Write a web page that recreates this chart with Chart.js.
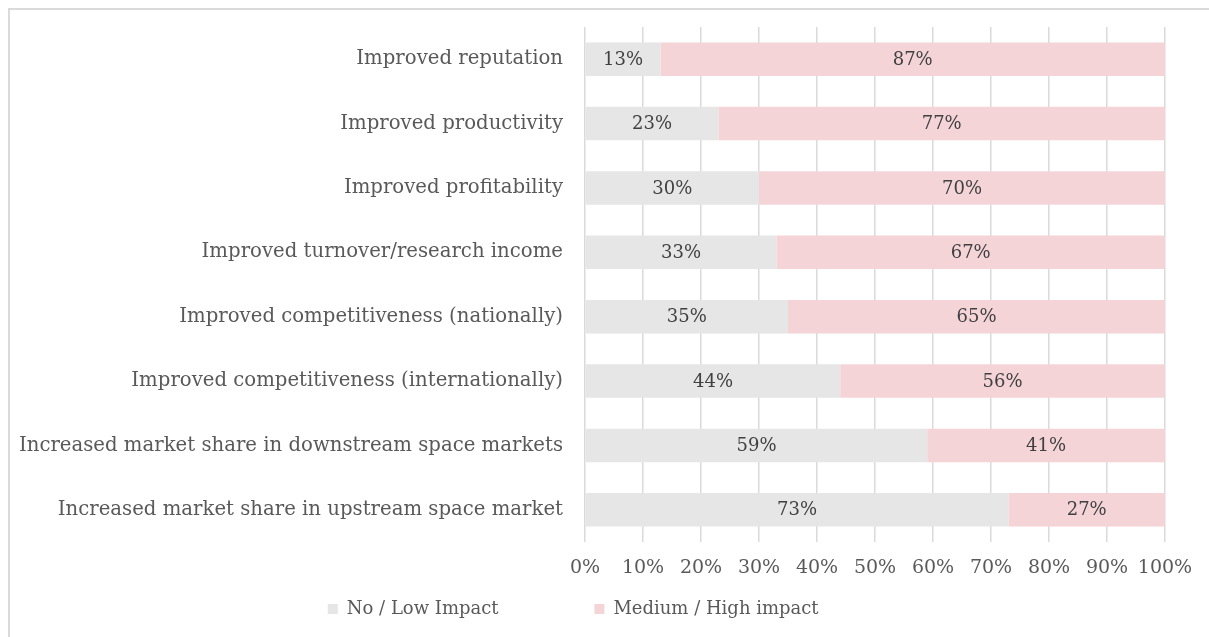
<!DOCTYPE html>
<html>
<head>
<meta charset="utf-8">
<script src="https://cdn.jsdelivr.net/npm/chart.js@4.4.1/dist/chart.umd.min.js"></script>
<style>
  html, body { margin: 0; padding: 0; background: #fff; }
  #frame {
    position: absolute; left: 8px; top: 8px; width: 1300px; height: 700px;
    border-left: 2px solid #dadada; border-top: 2px solid #dadada;
  }
  #wrap { position: absolute; left: 0; top: 0; width: 1209px; height: 637px; }
</style>
</head>
<body>
<div id="frame"></div>
<div id="wrap"><canvas id="impactChart" width="1209" height="637"></canvas></div>
<script>
const categories = [
    'Improved reputation',
    'Improved productivity',
    'Improved profitability',
    'Improved turnover/research income',
    'Improved competitiveness (nationally)',
    'Improved competitiveness (internationally)',
    'Increased market share in downstream space markets',
    'Increased market share in upstream space market'
];
const lowImpact = [13, 23, 30, 33, 35, 44, 59, 73];
const highImpact = [87, 77, 70, 67, 65, 56, 41, 27];
const seriesNames = ['No / Low Impact', 'Medium / High impact'];

const serif = "'DejaVu Serif', Georgia, serif";

// write the % value in the middle of every bar segment
const barValues = {
    id: 'barValues',
    afterDatasetsDraw(chart) {
        const ctx = chart.ctx;
        ctx.save();
        ctx.font = '18px ' + serif;
        ctx.fillStyle = '#404040';
        ctx.textAlign = 'center';
        ctx.textBaseline = 'middle';
        chart.data.datasets.forEach((ds, i) => {
            chart.getDatasetMeta(i).data.forEach((bar, j) => {
                ctx.fillText(ds.data[j] + '%', (bar.x + bar.base) / 2, bar.y + 1);
            });
        });
        ctx.restore();
    }
};

const ctx = document.getElementById('impactChart').getContext('2d');
const impactChart = new Chart(ctx, {
    type: 'bar',
    data: {
        labels: categories,
        datasets: [{
            label: seriesNames[0],
            data: lowImpact,
            backgroundColor: '#e6e6e6',
            barPercentage: 0.52,
            categoryPercentage: 1
        }, {
            label: seriesNames[1],
            data: highImpact,
            backgroundColor: '#f5d4d8',
            barPercentage: 0.52,
            categoryPercentage: 1
        }]
    },
    options: {
        indexAxis: 'y',
        responsive: false,
        animation: false,
        layout: { padding: { left: 10, right: 44, top: 27, bottom: 9 } },
        scales: {
            x: {
                stacked: true,
                min: 0,
                max: 100,
                ticks: {
                    stepSize: 10,
                    padding: 15,
                    maxRotation: 0,
                    minRotation: 0,
                    autoSkip: false,
                    color: '#595959',
                    font: { family: serif, size: 19 },
                    callback: v => v + '%'
                },
                grid: { color: '#dadada', lineWidth: 1.5, drawTicks: false },
                border: { display: false },
                afterFit: scale => { scale.height = 48; }
            },
            y: {
                stacked: true,
                ticks: {
                    padding: 22,
                    color: '#595959',
                    font: { family: serif, size: 19.7 }
                },
                grid: { display: false, drawTicks: false },
                border: { display: false },
                afterFit: scale => {
                    scale.width = 575;
                    scale.paddingTop = 0;
                    scale.paddingBottom = 0;
                }
            }
        },
        plugins: {
            legend: {
                position: 'bottom',
                labels: {
                    boxWidth: 10,
                    boxHeight: 10,
                    padding: 10,
                    color: '#595959',
                    font: { family: serif, size: 18 },
                    generateLabels: chart => {
                        const items = Chart.defaults.plugins.legend.labels.generateLabels(chart);
                        items[0].text = items[0].text + '\u00a0'.repeat(15);
                        items[1].text = items[1].text + '\u00a0'.repeat(5);
                        items.forEach(it => { it.lineWidth = 0; });
                        return items;
                    }
                }
            },
            tooltip: { enabled: false }
        }
    },
    plugins: [barValues]
});
</script>
</body>
</html>
